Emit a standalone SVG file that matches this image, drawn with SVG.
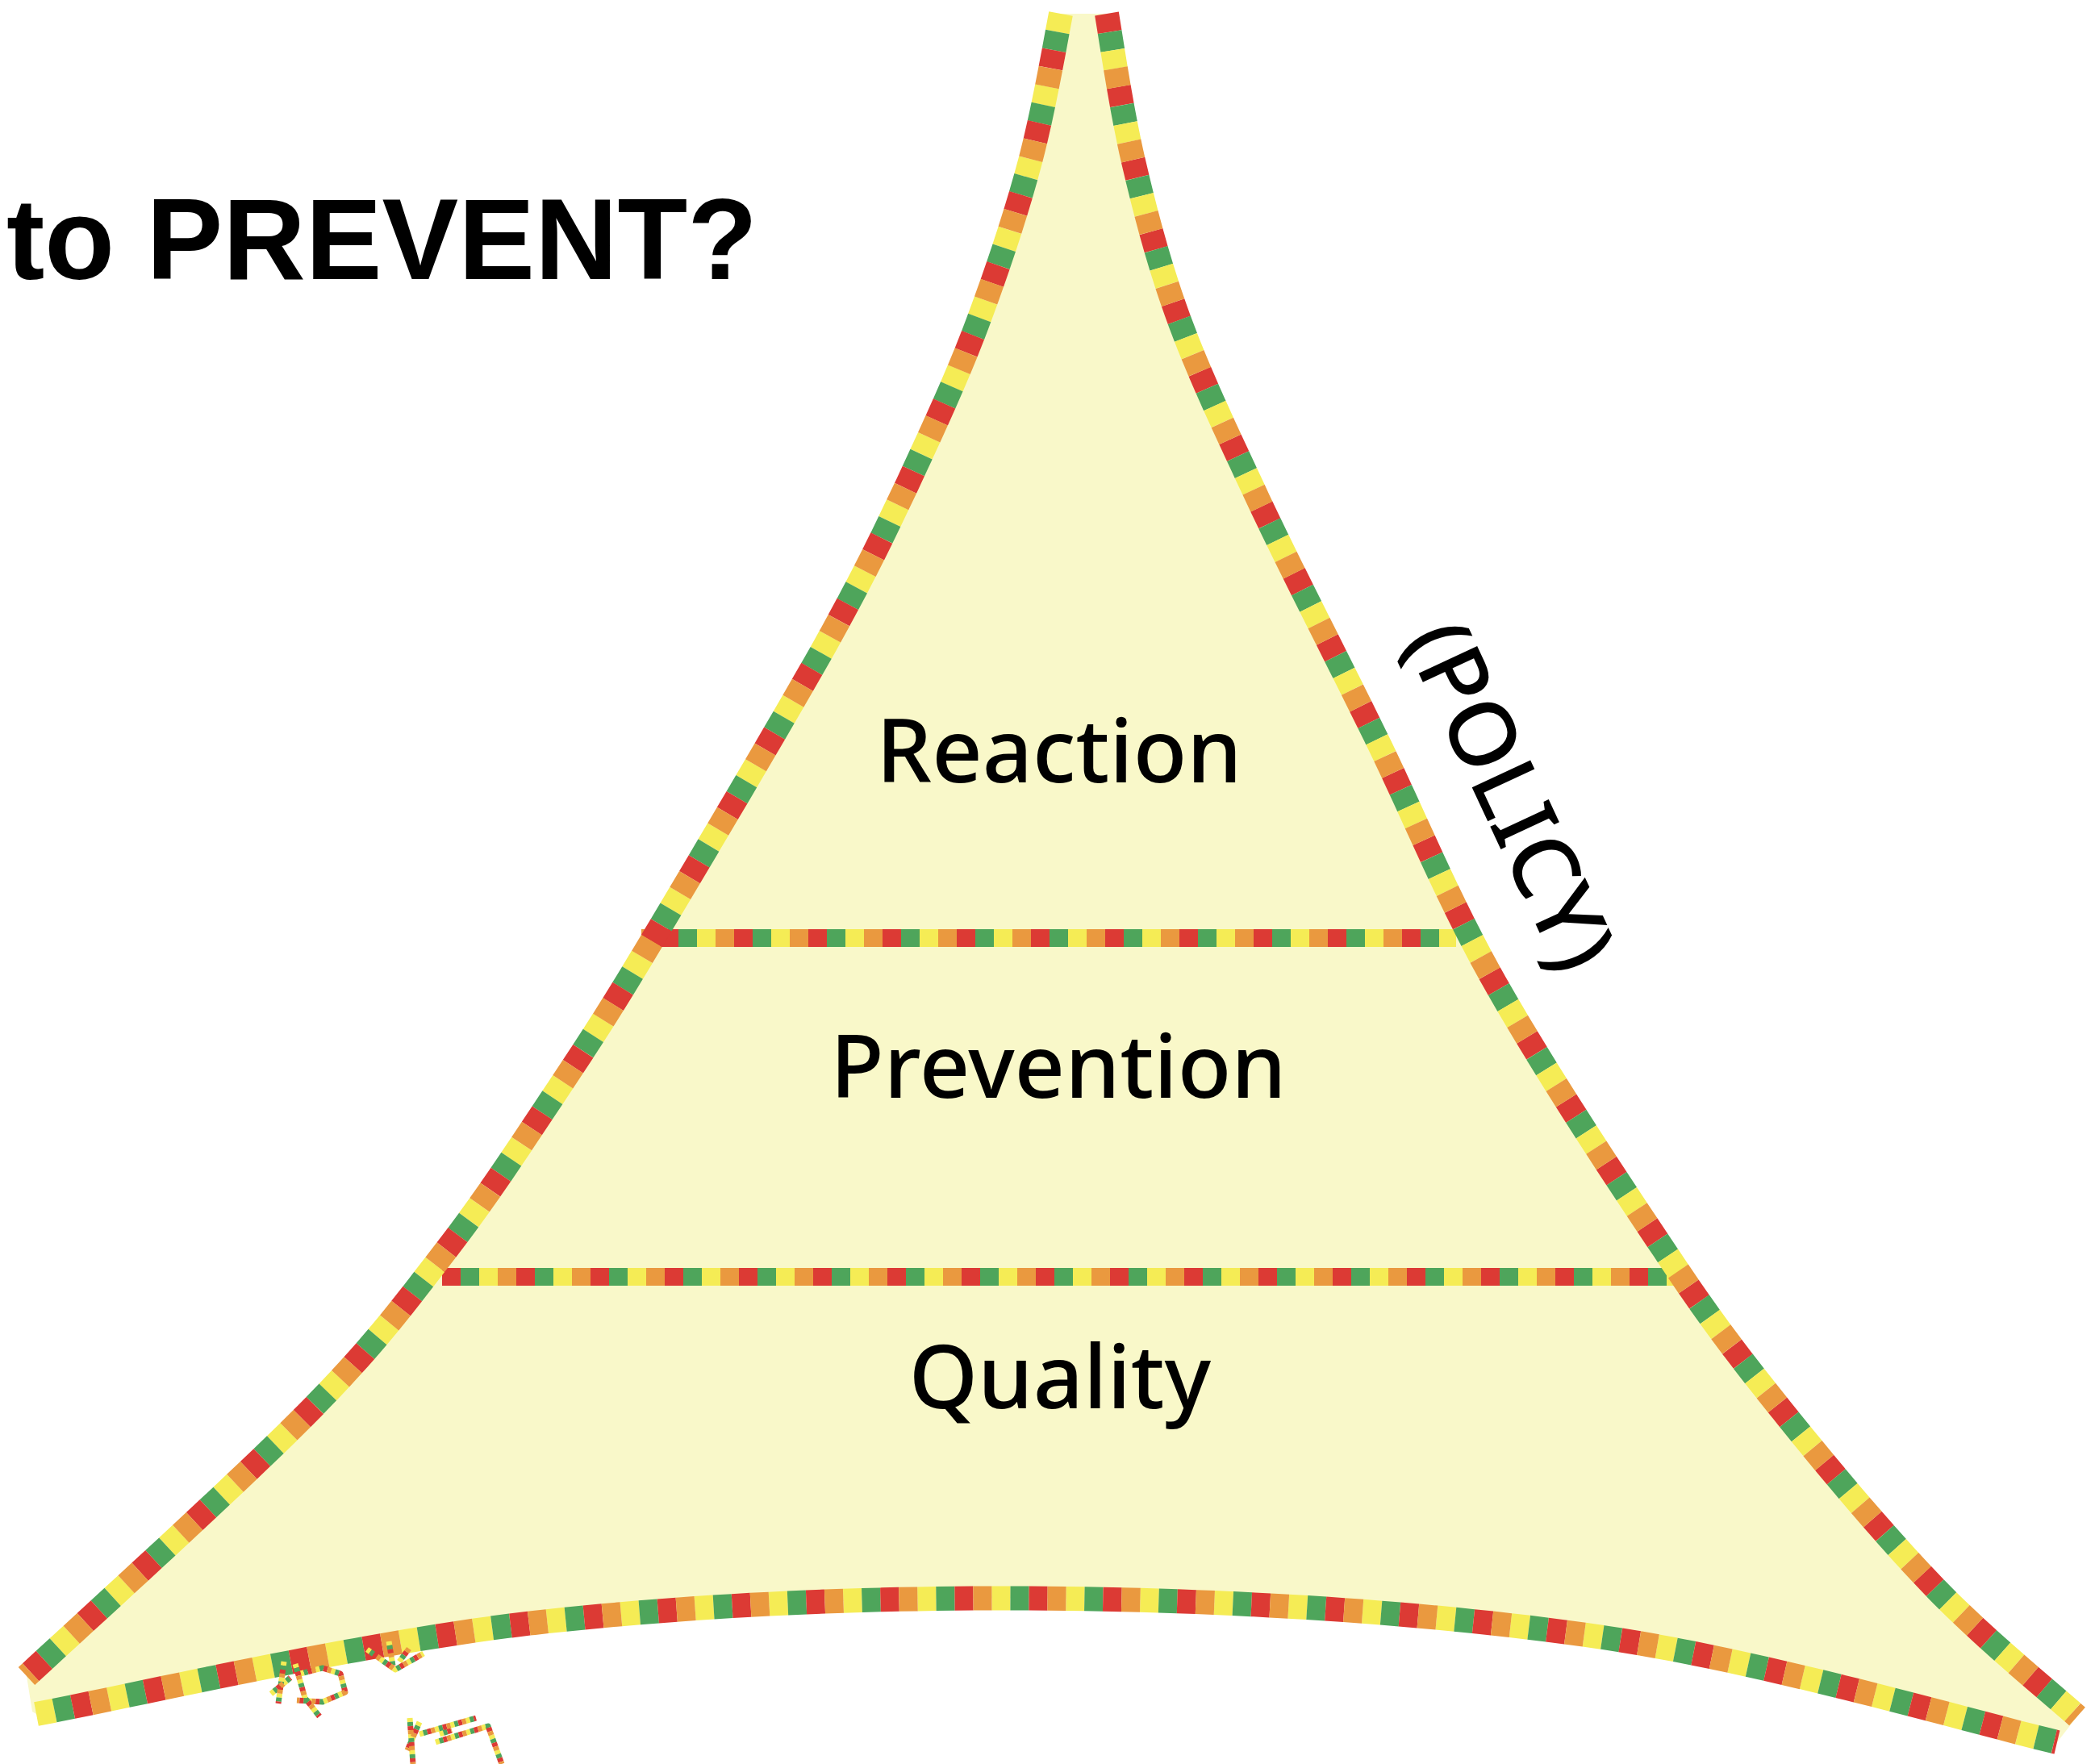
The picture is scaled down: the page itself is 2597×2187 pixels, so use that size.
<svg xmlns="http://www.w3.org/2000/svg" xmlns:xlink="http://www.w3.org/1999/xlink" width="2597" height="2187" viewBox="0 0 2597 2187">
<style>
.fill{fill:#F9F8C9;stroke:none}
.e{fill:none;stroke-width:30;stroke-dasharray:23 69;stroke-linecap:butt}
.d{fill:none;stroke-width:22;stroke-dasharray:23 69;stroke-linecap:butt}
.s{fill:none;stroke-width:7;stroke-dasharray:5 15;stroke-linecap:butt;stroke-linejoin:round}
.cy{stroke:#F5EC55}.cg{stroke:#4EA55B}.cr{stroke:#DC3A34}.co{stroke:#EA993F}
.o1{stroke-dashoffset:-23}.o2{stroke-dashoffset:-46}.o3{stroke-dashoffset:-69}
.p1{stroke-dashoffset:-5}.p2{stroke-dashoffset:-10}.p3{stroke-dashoffset:-15}
.title{font-family:"Liberation Sans",Arial,sans-serif;font-weight:bold;font-size:142px;fill:#000}
.lbl{font-family:"Noto Sans","DejaVu Sans",sans-serif;font-weight:500;font-size:109px;fill:#000;text-anchor:middle}
</style>
<defs>
<path id="edgeL" d="M1315,17 C1309,48 1294,136 1277,200 C1260,264 1237,333 1212,400 C1187,467 1156,533 1125,600 C1093,667 1075,706 1023,800 C970,894 865,1071 810,1163 C755,1255 735,1285 692,1350 C649,1414 605,1483 553,1550 C501,1617 467,1665 380,1753 C293,1841 91,2024 33,2078"/>
<path id="edgeR" d="M1372,17 C1377,47 1390,136 1405,200 C1420,264 1437,330 1463,400 C1489,470 1520,534 1560,620 C1600,705 1656,813 1705,913 C1754,1013 1793,1112 1853,1218 C1913,1324 2003,1461 2063,1550 C2122,1639 2154,1680 2210,1750 C2266,1820 2339,1907 2400,1970 C2461,2033 2546,2102 2575,2128"/>
<path id="edgeB" d="M45,2125 C148,2106 449,2036 662,2012 C875,1988 1104,1979 1325,1982 C1546,1985 1783,2000 1987,2030 C2191,2060 2456,2138 2550,2160"/>
<path id="div1" d="M795,1163 L1805,1163"/>
<path id="div2" d="M548,1583 L2090,1583"/>
<path id="scr" d="M352,2060 L345,2112 M336,2100 L360,2080 M366,2063 L378,2105 L396,2128 M372,2075 L400,2068 L422,2075 L428,2098 L400,2110 L368,2108 M455,2045 L490,2070 L525,2050 M482,2035 L487,2065 M495,2060 L510,2040 M508,2130 L512,2187 M520,2135 L505,2170 M520,2150 L590,2130 M540,2160 L605,2140 L622,2187 M545,2150 L560,2145"/>
</defs>

<g id="triangle">
<path class="fill" d="M1315,17 C1309,48 1294,136 1277,200 C1260,264 1237,333 1212,400 C1187,467 1156,533 1125,600 C1093,667 1075,706 1023,800 C970,894 865,1071 810,1163 C755,1255 735,1285 692,1350 C649,1414 605,1483 553,1550 C501,1617 467,1665 380,1753 C293,1841 91,2024 33,2078 L40,2122 L45,2125 C148,2106 449,2036 662,2012 C875,1988 1104,1979 1325,1982 C1546,1985 1783,2000 1987,2030 C2191,2060 2456,2138 2550,2160 L2575,2128 C2546,2102 2461,2033 2400,1970 C2339,1907 2266,1820 2210,1750 C2154,1680 2122,1639 2063,1550 C2003,1461 1913,1324 1853,1218 C1793,1112 1754,1013 1705,913 C1656,813 1600,705 1560,620 C1520,534 1489,470 1463,400 C1437,330 1420,264 1405,200 C1390,136 1377,47 1372,17 Z"/>
</g>

<g id="dividers">
<use xlink:href="#div1" class="d co"/>
<use xlink:href="#div1" class="d cr o1"/>
<use xlink:href="#div1" class="d cg o2"/>
<use xlink:href="#div1" class="d cy o3"/>
<use xlink:href="#div2" class="d cr"/>
<use xlink:href="#div2" class="d cg o1"/>
<use xlink:href="#div2" class="d cy o2"/>
<use xlink:href="#div2" class="d co o3"/>
</g>

<g id="edges">
<use xlink:href="#edgeL" class="e cy"/>
<use xlink:href="#edgeL" class="e cg o1"/>
<use xlink:href="#edgeL" class="e cr o2"/>
<use xlink:href="#edgeL" class="e co o3"/>
<use xlink:href="#edgeR" class="e cr"/>
<use xlink:href="#edgeR" class="e cg o1"/>
<use xlink:href="#edgeR" class="e cy o2"/>
<use xlink:href="#edgeR" class="e co o3"/>
<use xlink:href="#edgeB" class="e cy"/>
<use xlink:href="#edgeB" class="e cg o1"/>
<use xlink:href="#edgeB" class="e cr o2"/>
<use xlink:href="#edgeB" class="e co o3"/>
</g>

<g id="title"><text class="title" x="8" y="346">to PREVENT?</text></g>
<g id="tier-reaction"><text class="lbl" x="1313" y="970">Reaction</text></g>
<g id="tier-prevention"><text class="lbl" x="1312" y="1361">Prevention</text></g>
<g id="tier-quality"><text class="lbl" x="1314" y="1746">Quality</text></g>
<g id="policy-label"><text class="lbl" style="font-size:112px" transform="translate(1837,1003) rotate(65)">(POLICY)</text></g>

<g id="scribbles">
<use xlink:href="#scr" class="s cy"/>
<use xlink:href="#scr" class="s cg p1"/>
<use xlink:href="#scr" class="s cr p2"/>
<use xlink:href="#scr" class="s co p3"/>
</g>
</svg>
